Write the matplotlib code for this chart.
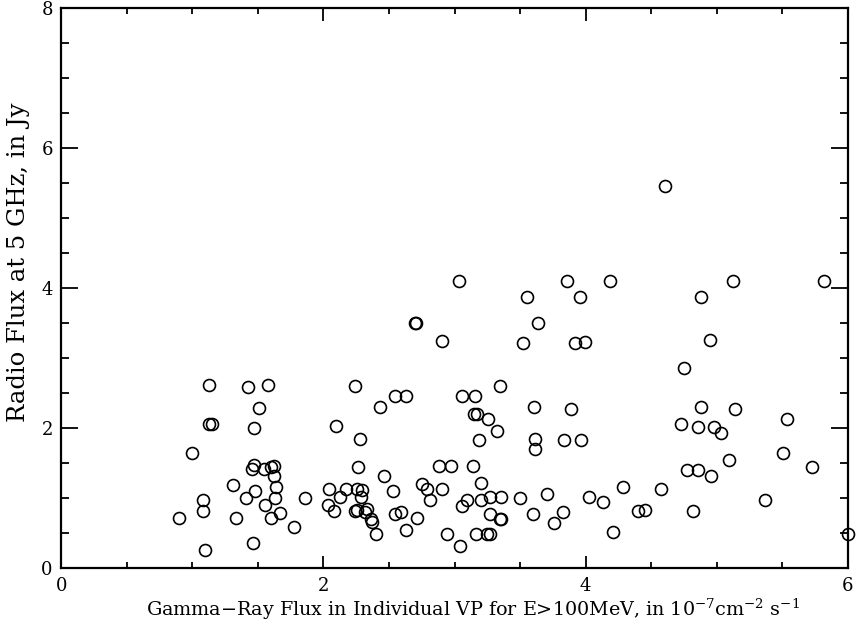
import numpy as np
import matplotlib
matplotlib.use("Agg")
import matplotlib.pyplot as plt
from matplotlib.ticker import MultipleLocator

# gamma-ray flux (1e-7 cm^-2 s^-1) vs radio flux at 5 GHz (Jy)
gamma_flux = [
    1.130, 1.423, 1.580, 1.509, 1.127, 1.153, 1.471, 1.000, 1.473, 1.455,
    1.547, 1.598, 1.623, 1.621, 1.308, 1.481, 1.638, 1.079, 1.410, 1.631,
    1.862, 1.079, 1.552, 0.899, 1.331, 1.598, 1.669, 1.773, 1.461, 1.099,
    2.039, 2.033, 2.081, 2.243, 2.544, 2.632, 2.432, 2.094, 2.281, 3.055,
    3.154, 3.347, 3.149, 3.169, 3.256, 3.324, 3.185, 3.604, 3.886, 3.614,
    3.614, 3.835, 3.965, 2.262, 2.462, 2.882, 2.973, 3.141, 3.202, 2.172,
    2.254, 2.297, 2.124, 2.285, 2.243, 2.254, 2.330, 2.317, 2.363, 2.373,
    2.404, 2.533, 2.544, 2.592, 2.632, 2.712, 2.754, 2.793, 2.813, 2.905,
    2.943, 3.044, 3.055, 3.093, 3.164, 3.202, 3.246, 3.273, 3.273, 3.273,
    3.352, 3.347, 3.357, 3.502, 3.596, 3.703, 3.757, 3.828,
    2.695, 2.703, 2.902, 3.034, 4.606, 3.555, 3.860, 3.955, 4.186, 3.635,
    3.525, 3.921, 3.995, 4.878, 5.127, 5.818, 4.949, 4.751,
    4.878, 5.137, 4.728, 4.855, 4.977, 5.031, 5.536, 5.506, 5.727, 5.096,
    4.776, 4.860, 4.959, 4.285, 4.577, 4.026, 4.135, 4.402, 4.451, 4.819,
    5.366, 4.207, 5.998,
]
radio_flux = [
    2.606, 2.586, 2.606, 2.286, 2.057, 2.057, 1.996, 1.634, 1.463, 1.414,
    1.414, 1.443, 1.453, 1.314, 1.181, 1.096, 1.149, 0.967, 1.000, 1.000,
    0.991, 0.806, 0.896, 0.710, 0.710, 0.710, 0.777, 0.577, 0.353, 0.253,
    1.120, 0.896, 0.806, 2.591, 2.457, 2.453, 2.296, 2.020, 1.834, 2.457,
    2.457, 2.591, 2.196, 2.191, 2.120, 1.957, 1.829, 2.296, 2.267, 1.834,
    1.696, 1.829, 1.829, 1.439, 1.314, 1.453, 1.453, 1.449, 1.214, 1.120,
    1.120, 1.106, 1.014, 1.006, 0.806, 0.829, 0.839, 0.800, 0.700, 0.657,
    0.481, 1.096, 0.767, 0.800, 0.534, 0.710, 1.200, 1.120, 0.967, 1.120,
    0.477, 0.310, 0.886, 0.967, 0.477, 0.967, 0.477, 0.477, 0.767, 1.006,
    1.006, 0.691, 0.691, 0.991, 0.767, 1.049, 0.634, 0.796,
    3.500, 3.500, 3.243, 4.100, 5.457, 3.863, 4.100, 3.863, 4.100, 3.496,
    3.210, 3.206, 3.229, 3.863, 4.100, 4.100, 3.249, 2.849,
    2.296, 2.267, 2.057, 2.014, 2.014, 1.929, 2.120, 1.639, 1.439, 1.539,
    1.396, 1.396, 1.306, 1.149, 1.120, 1.006, 0.934, 0.806, 0.829, 0.806,
    0.963, 0.506, 0.486,
]

plt.rcParams['font.family'] = 'DejaVu Serif'
plt.rcParams['mathtext.fontset'] = 'dejavuserif'

fig = plt.figure(figsize=(8.57, 6.26), dpi=100)
ax = fig.add_axes([0.0714, 0.0931, 0.9179, 0.8946])

ax.plot(gamma_flux, radio_flux, 'o', mfc='none', mec='k', ms=8.6, mew=1.2,
        linestyle='none', clip_on=False)

ax.set_xlim(0, 6)
ax.set_ylim(0, 8)
ax.xaxis.set_major_locator(MultipleLocator(2))
ax.xaxis.set_minor_locator(MultipleLocator(0.5))
ax.yaxis.set_major_locator(MultipleLocator(2))
ax.yaxis.set_minor_locator(MultipleLocator(0.5))

for s in ax.spines.values():
    s.set_linewidth(1.6)

ax.tick_params(which='both', direction='in', top=True, right=True,
               width=1.3, labelsize=13)
ax.tick_params(axis='x', which='major', length=9, pad=7)
ax.tick_params(axis='x', which='minor', length=4.5)
ax.tick_params(axis='y', which='major', length=12, pad=6)
ax.tick_params(axis='y', which='minor', length=6)

ax.set_xlabel(r'Gamma$-$Ray Flux in Individual VP for E>100MeV, in 10$^{-7}$cm$^{-2}$ s$^{-1}$',
              fontsize=13.8)
ax.set_ylabel('Radio Flux at 5 GHz, in Jy', fontsize=17.5)
# label positions in axes coords (the original is shifted off-centre)
ax.xaxis.set_label_coords(0.524, -0.052)
ax.yaxis.set_label_coords(-0.040, 0.546)

fig.savefig('out.png', dpi=100)
